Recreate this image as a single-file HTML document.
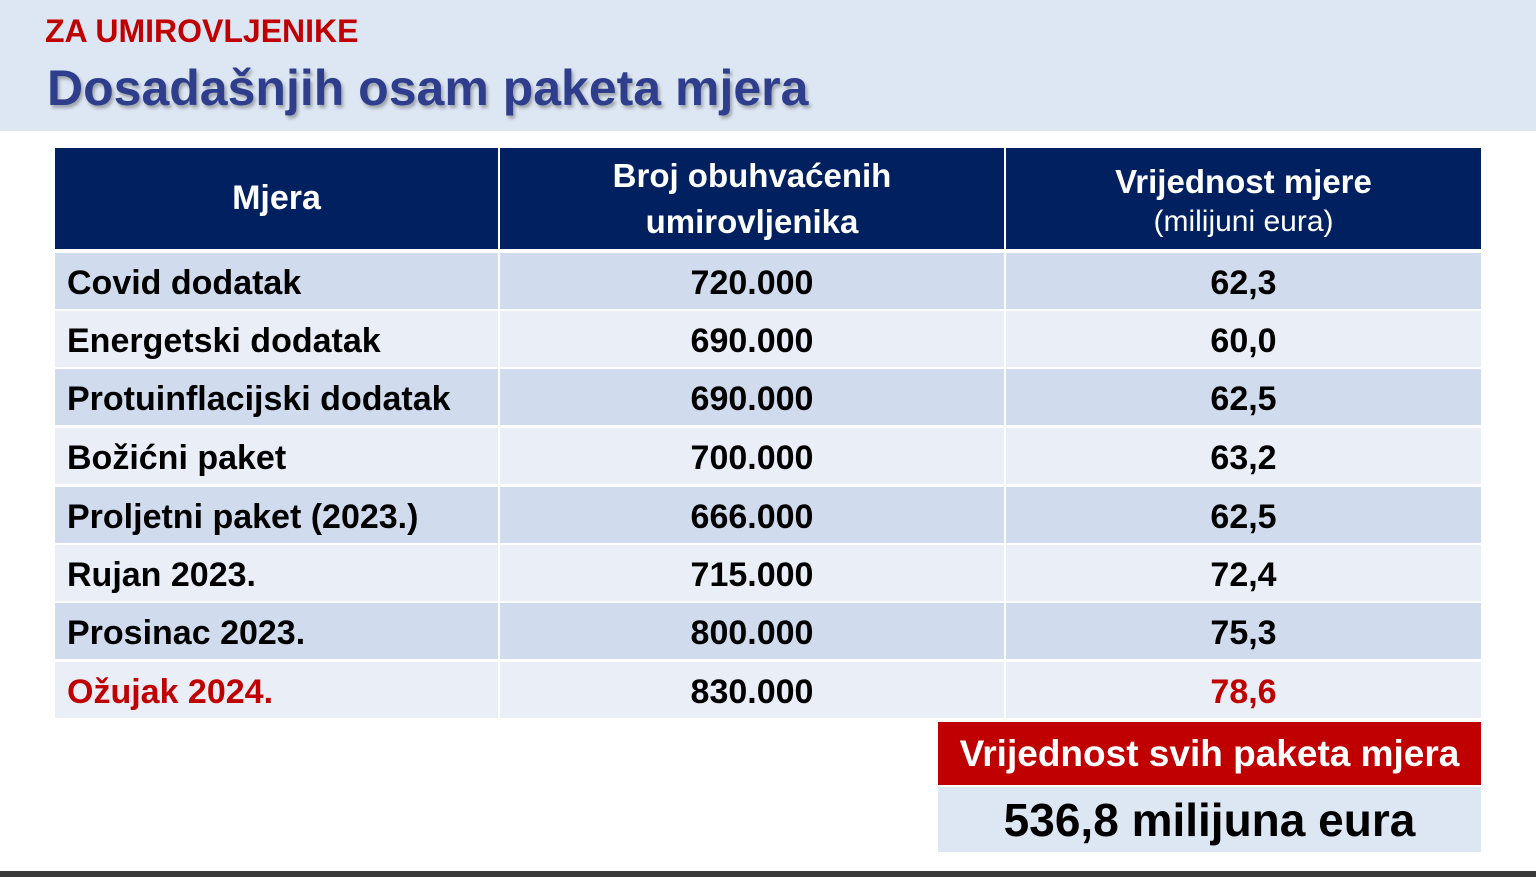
<!DOCTYPE html>
<html><head><meta charset="utf-8"><style>
body{margin:0;width:1536px;height:877px;background:#fff;position:relative;overflow:hidden;font-family:"Liberation Sans",sans-serif;font-weight:bold}
.a{position:absolute}
.band{left:0;top:0;width:1536px;height:131px;background:#dde7f4}
.t{position:absolute;white-space:nowrap;line-height:1}
.c{display:inline-block}
.cell{position:absolute;display:flex;align-items:center;box-sizing:border-box;white-space:nowrap}
.ctr{justify-content:center}
.rt{font-size:34px;color:#000}
</style></head><body>
<div class="a band"></div>
<div class="t" style="left:45px;top:15px;font-size:32px;color:#c00000;"><span class="c">ZA UMIROVLJENIKE</span></div>
<div class="t" style="left:47px;top:63px;font-size:50px;color:#2e3e8c;text-shadow:2px 3px 3px rgba(80,80,80,.45)"><span class="c">Dosadašnjih osam paketa mjera</span></div>

<div class="a" style="left:55px;top:148px;width:1426px;height:101px;background:#002060"></div>
<div class="a" style="left:498px;top:148px;width:2px;height:570px;background:#fff"></div>
<div class="a" style="left:1004px;top:148px;width:2px;height:570px;background:#fff"></div>
<div class="cell ctr" style="left:55px;top:148px;width:443px;height:101px;color:#fff;font-size:34px"><span class="c">Mjera</span></div>
<div class="cell ctr" style="left:500px;top:148px;width:504px;height:101px;color:#fff;font-size:33px;text-align:center;line-height:46px"><span class="c">Broj obuhvaćenih<br>umirovljenika</span></div>
<div class="cell ctr" style="left:1006px;top:148px;width:475px;height:101px;color:#fff;text-align:center;flex-direction:column"><span class="c" style="font-size:33px;margin-top:4px">Vrijednost mjere</span><span class="c" style="font-size:30px;font-weight:normal;margin-top:4px">(milijuni eura)</span></div>

<div id="rows"></div>
<script>
var d=[["Covid dodatak","720.000","62,3"],["Energetski dodatak","690.000","60,0"],["Protuinflacijski dodatak","690.000","62,5"],["Božićni paket","700.000","63,2"],["Proljetni paket (2023.)","666.000","62,5"],["Rujan 2023.","715.000","72,4"],["Prosinac 2023.","800.000","75,3"],["Ožujak 2024.","830.000","78,6"]];
var tops=[253,311,369,428,487,545,603,662],h="";
d.forEach(function(r,i){var t=tops[i],bg=i%2?"#e9eef7":"#d0dcee",red=i==7?"#c00000":"#000";
h+='<div class="a" style="left:55px;top:'+t+'px;width:443px;height:56px;background:'+bg+'"></div>';
h+='<div class="a" style="left:500px;top:'+t+'px;width:504px;height:56px;background:'+bg+'"></div>';
h+='<div class="a" style="left:1006px;top:'+t+'px;width:475px;height:56px;background:'+bg+'"></div>';
h+='<div class="cell rt" style="left:67px;top:'+t+'px;height:60px;color:'+red+'"><span class="c">'+r[0]+'</span></div>';
h+='<div class="cell ctr rt" style="left:500px;top:'+t+'px;width:504px;height:60px"><span class="c">'+r[1]+'</span></div>';
h+='<div class="cell ctr rt" style="left:1006px;top:'+t+'px;width:475px;height:60px;color:'+red+'"><span class="c">'+r[2]+'</span></div>';});
document.getElementById("rows").innerHTML=h;
</script>

<div class="cell ctr" style="left:938px;top:722px;width:543px;height:63px;background:#c00000;color:#fff;font-size:37px"><span class="c">Vrijednost svih paketa mjera</span></div>
<div class="cell ctr" style="left:938px;top:787px;width:543px;height:65px;background:#dde7f4;color:#000;font-size:46px"><span class="c">536,8 milijuna eura</span></div>
<div class="a" style="left:0;top:871px;width:1536px;height:6px;background:#3a3a3a"></div>
</body></html>
